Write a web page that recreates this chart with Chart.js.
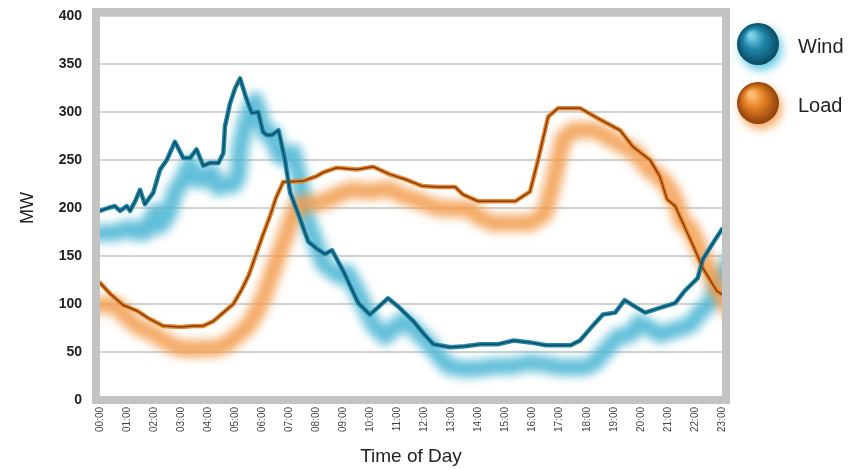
<!DOCTYPE html>
<html><head><meta charset="utf-8">
<script src="https://cdn.jsdelivr.net/npm/chart.js@4/dist/chart.umd.min.js"></script>
<style>html,body{margin:0;padding:0;background:#fff;}#wrap{width:861px;height:470px;}</style>
</head><body><div id="wrap"><canvas id="c" width="861" height="470"></canvas></div>
<script>
const tickLabels = ['00:00','01:00','02:00','03:00','04:00','05:00','06:00','07:00','08:00','09:00','10:00','11:00','12:00','13:00','14:00','15:00','16:00','17:00','18:00','19:00','20:00','21:00','22:00','23:00'];
const windHours = [0,0.3,0.55,0.74,0.99,1.11,1.3,1.48,1.66,1.97,2.22,2.47,2.77,3.08,3.33,3.57,3.82,4.07,4.38,4.56,4.62,4.81,5.0,5.18,5.4,5.61,5.85,6.03,6.17,6.36,6.6,6.84,7.03,7.33,7.7,8.0,8.32,8.58,9.0,9.55,9.98,10.3,10.65,11.0,11.59,12.0,12.33,12.95,13.5,14.05,14.7,15.3,15.9,16.5,17.4,17.75,18.24,18.6,19.05,19.4,19.8,20.16,20.7,21.27,21.6,22.1,22.3,22.7,23.0];
const windMW = [197,200,202,197,202,197,207,219,204,216,240,250,269,252,252,261,244,247,247,257,285,309,325,335,315,299,300,279,276,276,281,250,216,194,165,158,152,156,134,101,89,97,106,98,82,68,58,55,56,58,58,62,60,57,57,62,78,89,91,104,97,91,96,101,113,127,147,165,178];
const loadHours = [0,0.4,0.85,1.36,1.8,2.34,3.0,3.45,3.8,4.19,4.6,4.93,5.24,5.5,5.75,6.0,6.29,6.5,6.77,7.5,8.0,8.25,8.76,9.5,10.1,10.72,11.28,11.9,12.5,13.13,13.42,13.98,14.6,15.35,15.9,16.2,16.57,16.94,17.75,18.5,19.23,19.7,20.34,20.7,20.97,21.27,21.93,22.3,22.8,23.0];
const loadMW = [122,110,99,93,85,77,76,77,77,82,92,100,115,130,150,170,192,210,227,228,233,237,242,240,243,235,230,223,222,222,214,207,207,207,217,250,295,304,304,292,281,264,250,233,209,202,161,137,114,110];
const seriesNames = ['Wind','Load'];
const yTicks = [0,50,100,150,200,250,300,350,400];

const FONT = '"Liberation Sans", Arial, Helvetica, sans-serif';
const styles = [
  {outer:'#2187a8', inner:'#0f4c63', shadow:'rgba(70,180,210,0.85)', ballHi:'#7fd3ea', ballMid:'#1f86a8', ballLo:'#0a4a63', glow:'rgba(80,195,225,0.9)'},
  {outer:'#e9862c', inner:'#7e3d0e', shadow:'rgba(242,155,75,0.85)', ballHi:'#ffc07a', ballMid:'#e37f22', ballLo:'#8e3f0c', glow:'rgba(245,160,80,0.9)'}
];

const toPts = (hs, vs) => hs.map((h, i) => ({x: h, y: vs[i]}));

const fxPlugin = {
  id: 'fx',
  beforeDatasetsDraw(chart) {
    const {ctx, chartArea: a} = chart;
    ctx.save();
    ctx.beginPath(); ctx.rect(a.left, a.top, a.right - a.left, a.bottom - a.top); ctx.clip();
    ctx.filter = 'blur(5px)';
    ctx.lineJoin = 'round'; ctx.lineCap = 'round';
    chart.data.datasets.forEach((ds, i) => {
      const pts = chart.getDatasetMeta(i).data;
      const dx = 15, dy = 22;
      ctx.beginPath();
      ctx.moveTo(pts[0].x, pts[0].y + dy);
      pts.forEach(p => ctx.lineTo(p.x + dx, p.y + dy));
      ctx.strokeStyle = styles[i].shadow;
      ctx.lineWidth = 17;
      ctx.stroke();
    });
    ctx.restore();
  },
  afterDatasetsDraw(chart) {
    const {ctx, chartArea: a} = chart;
    ctx.save();
    ctx.beginPath(); ctx.rect(a.left, a.top, a.right - a.left, a.bottom - a.top); ctx.clip();
    ctx.lineJoin = 'round'; ctx.lineCap = 'round';
    chart.data.datasets.forEach((ds, i) => {
      const pts = chart.getDatasetMeta(i).data;
      ctx.beginPath();
      pts.forEach((p, k) => k ? ctx.lineTo(p.x, p.y) : ctx.moveTo(p.x, p.y));
      ctx.strokeStyle = styles[i].inner;
      ctx.lineWidth = 1.5;
      ctx.stroke();
    });
    ctx.restore();
    // frame
    ctx.save();
    ctx.fillStyle = '#c3c3c3';
    const t = 8;
    ctx.fillRect(a.left - t, a.top - t, a.right - a.left + 2 * t, t);
    ctx.fillRect(a.left - t, a.bottom - 4, a.right - a.left + 2 * t, t);
    ctx.fillRect(a.left - t, a.top - t, t, a.bottom - a.top + t + 4);
    ctx.fillRect(a.right, a.top - t, t, a.bottom - a.top + t + 4);
    ctx.restore();
    // legend balls
    const lx = 758, ly = [44, 103], r = 21;
    seriesNames.forEach((name, i) => {
      const s = styles[i];
      ctx.save();
      ctx.shadowColor = s.glow; ctx.shadowBlur = 10; ctx.shadowOffsetX = 3; ctx.shadowOffsetY = 5;
      const g = ctx.createRadialGradient(lx - 7, ly[i] - 9, 2, lx, ly[i], r);
      g.addColorStop(0, s.ballHi);
      g.addColorStop(0.45, s.ballMid);
      g.addColorStop(1, s.ballLo);
      ctx.fillStyle = g;
      ctx.beginPath(); ctx.arc(lx, ly[i], r, 0, Math.PI * 2); ctx.fill();
      ctx.restore();
      ctx.save();
      ctx.fillStyle = '#222';
      ctx.font = '20px ' + FONT;
      ctx.textBaseline = 'middle';
      ctx.fillText(name, 798, ly[i] + 3);
      ctx.restore();
    });
  }
};

new Chart(document.getElementById('c'), {
  type: 'line',
  data: {
    datasets: [
      {label: seriesNames[0], data: toPts(windHours, windMW), borderColor: styles[0].outer, borderWidth: 4.5, pointRadius: 0, tension: 0, fill: false, borderJoinStyle: 'round', borderCapStyle: 'round'},
      {label: seriesNames[1], data: toPts(loadHours, loadMW), borderColor: styles[1].outer, borderWidth: 4.5, pointRadius: 0, tension: 0, fill: false, borderJoinStyle: 'round', borderCapStyle: 'round'}
    ]
  },
  options: {
    responsive: false,
    animation: false,
    devicePixelRatio: 1,
    layout: {padding: {top: 16, right: 139, left: 0, bottom: 0}},
    plugins: {legend: {display: false}, tooltip: {enabled: false}},
    scales: {
      x: {
        type: 'linear', min: 0, max: 23,
        afterFit(s) { s.height = 70; s.paddingLeft = 0; s.paddingRight = 0; },
        grid: {display: false, drawTicks: false},
        border: {display: false},
        ticks: {stepSize: 1, autoSkip: false, minRotation: 90, maxRotation: 90, padding: 7,
          color: '#444', font: {family: FONT, size: 10},
          callback: v => tickLabels[v] },
        title: {display: true, text: 'Time of Day', color: '#222', font: {family: FONT, size: 19}, padding: {top: 0, bottom: 2}}
      },
      y: {
        min: 0, max: 400,
        afterFit(s) { s.width = 100; s.paddingTop = 0; s.paddingBottom = 0; },
        afterBuildTicks(s) { s.ticks = yTicks.map(v => ({value: v})); },
        grid: {color: '#d2d2d2', lineWidth: 2, drawTicks: false},
        border: {display: false},
        ticks: {padding: 18, color: '#222', font: {family: FONT, size: 14, weight: 'bold'}},
        title: {display: true, text: 'MW', color: '#222', font: {family: FONT, size: 18}, padding: {top: 17, bottom: 0}}
      }
    }
  },
  plugins: [fxPlugin]
});
</script></body></html>
